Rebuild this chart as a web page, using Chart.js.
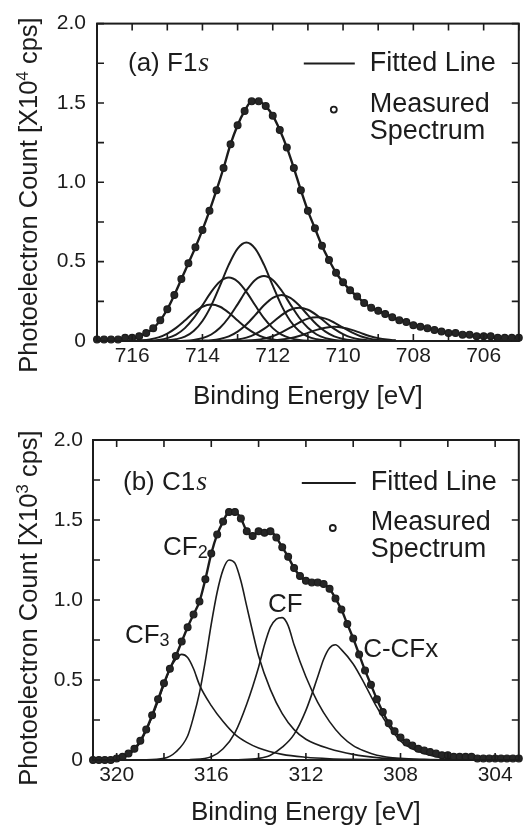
<!DOCTYPE html>
<html>
<head>
<meta charset="utf-8">
<script src="https://cdn.jsdelivr.net/npm/chart.js@4.4.1/dist/chart.umd.min.js"></script>
<style>
  html, body { margin: 0; padding: 0; background: #fff; }
  .panel { position: absolute; left: 0; width: 524px; height: 413px; }
</style>
</head>
<body>
<div class="panel" style="top:0"><canvas id="chartF1s" width="524" height="413"></canvas></div>
<div class="panel" style="top:413px"><canvas id="chartC1s" width="524" height="413"></canvas></div>
<script>
var INK = '#1c1c1c';
var SANS = '"Liberation Sans", Arial, Helvetica, sans-serif';
var SERIF = '"Liberation Serif", "Times New Roman", serif';

// ---- (a) F1s : measured spectrum (x10^4 cps) ----
var energyF1s = [717.0,716.8,716.6,716.4,716.2,716.0,715.8,715.6,715.4,715.2,
  715.0,714.8,714.6,714.4,714.2,714.0,713.8,713.6,713.4,713.2,
  713.0,712.8,712.6,712.4,712.2,712.0,711.8,711.6,711.4,711.2,
  711.0,710.8,710.6,710.4,710.2,710.0,709.8,709.6,709.4,709.2,
  709.0,708.8,708.6,708.4,708.2,708.0,707.8,707.6,707.4,707.2,
  707.0,706.8,706.6,706.4,706.2,706.0,705.8,705.6,705.4,705.2,705.0];
var countF1s = [0.01,0.01,0.01,0.01,0.02,0.02,0.03,0.05,0.08,0.13,
  0.20,0.29,0.39,0.49,0.59,0.70,0.82,0.95,1.09,1.24,
  1.36,1.45,1.51,1.51,1.48,1.42,1.33,1.22,1.09,0.95,
  0.82,0.71,0.60,0.51,0.43,0.37,0.32,0.28,0.24,0.21,
  0.19,0.17,0.15,0.13,0.12,0.10,0.09,0.08,0.07,0.06,
  0.05,0.05,0.04,0.04,0.03,0.03,0.03,0.02,0.02,0.02,0.02];

// fitted components of F1s
var peakEnergyF1s = [716.0,715.75,715.5,715.25,715.0,714.75,714.5,714.25,714.0,713.75,
  713.5,713.25,713.0,712.75,712.5,712.25,712.0,711.75,711.5,711.25,
  711.0,710.75,710.5,710.25,710.0,709.75,709.5,709.25,709.0,708.75,708.5];
var peakF1a = [0.001,0.004,0.010,0.023,0.047,0.083,0.129,0.178,0.216,0.230,0.216,0.178,0.129,0.083,0.047,0.023,0.010,0.004,0.001,0,0,0,0,0,0,0,0,0,0,0,0];
var peakF1b = [0,0.001,0.002,0.007,0.018,0.040,0.081,0.144,0.225,0.310,0.375,0.400,0.375,0.310,0.225,0.144,0.081,0.040,0.018,0.007,0.002,0.001,0,0,0,0,0,0,0,0,0];
var peakF1c = [0,0,0,0.001,0.004,0.011,0.027,0.063,0.126,0.223,0.349,0.481,0.582,0.620,0.582,0.481,0.349,0.223,0.126,0.063,0.027,0.011,0.004,0.001,0,0,0,0,0,0,0];
var peakF1d = [0,0,0,0,0,0,0.002,0.007,0.018,0.041,0.083,0.148,0.231,0.318,0.385,0.410,0.385,0.318,0.231,0.148,0.083,0.041,0.018,0.007,0.002,0,0,0,0,0,0];
var peakF1e = [0,0,0,0,0,0,0,0,0.002,0.005,0.013,0.029,0.059,0.104,0.163,0.225,0.272,0.290,0.272,0.225,0.163,0.104,0.059,0.029,0.013,0.005,0.002,0,0,0,0];
var peakF1f = [0,0,0,0,0,0,0,0,0,0,0.001,0.004,0.009,0.021,0.043,0.076,0.118,0.163,0.197,0.210,0.197,0.163,0.118,0.076,0.043,0.021,0.009,0.004,0.001,0,0];
var peakF1g = [0,0,0,0,0,0,0,0,0,0,0,0,0.001,0.003,0.007,0.015,0.030,0.054,0.084,0.116,0.141,0.150,0.141,0.116,0.084,0.054,0.030,0.015,0.007,0.003,0.001];
var peakF1h = [0,0,0,0,0,0,0,0,0,0,0,0,0,0,0,0.002,0.004,0.009,0.018,0.032,0.051,0.070,0.084,0.090,0.084,0.070,0.051,0.032,0.018,0.009,0.004];

// ---- (b) C1s : measured spectrum (x10^3 cps) ----
var energyC1s = [321.00,320.75,320.50,320.25,320.00,319.75,319.50,319.25,319.00,318.75,
  318.50,318.25,318.00,317.75,317.50,317.25,317.00,316.75,316.50,316.25,
  316.00,315.75,315.50,315.25,315.00,314.75,314.50,314.25,314.00,313.75,
  313.50,313.25,313.00,312.75,312.50,312.25,312.00,311.75,311.50,311.25,
  311.00,310.75,310.50,310.25,310.00,309.75,309.50,309.25,309.00,308.75,
  308.50,308.25,308.00,307.75,307.50,307.25,307.00,306.75,306.50,306.25,
  306.00,305.75,305.50,305.25,305.00,304.75,304.50,304.25,304.00,303.75,
  303.50,303.25,303.00];
var countC1s = [0.00,0.00,0.00,0.00,0.01,0.02,0.04,0.07,0.12,0.19,
  0.28,0.38,0.48,0.57,0.65,0.74,0.83,0.91,0.99,1.13,
  1.29,1.41,1.49,1.55,1.55,1.51,1.43,1.40,1.43,1.42,
  1.43,1.39,1.33,1.27,1.20,1.15,1.12,1.11,1.11,1.10,
  1.07,1.01,0.94,0.85,0.76,0.66,0.56,0.47,0.38,0.30,
  0.23,0.18,0.14,0.11,0.09,0.07,0.06,0.05,0.04,0.03,
  0.03,0.02,0.02,0.02,0.02,0.01,0.01,0.01,0.01,0.01,
  0.01,0.01,0.01];

// fitted components of C1s
var cf3Energy = [320.0,319.5,319.0,318.5,318.0,317.75,317.5,317.25,317.0,316.75,316.5,316.0,315.5,315.0,314.5,314.0,313.0,312.0,311.0,310.0,309.0,308.0,305.0];
var cf3Count  = [0.0,0.03,0.11,0.27,0.47,0.57,0.63,0.66,0.64,0.57,0.47,0.34,0.24,0.16,0.11,0.075,0.035,0.017,0.008,0.004,0.002,0.0,0.0];
var cf2Energy = [319.0,318.0,317.5,317.0,316.75,316.5,316.25,316.0,315.75,315.5,315.25,315.0,314.75,314.5,314.25,314.0,313.5,313.0,312.5,312.0,311.0,310.0,309.0,308.0,306.0];
var cf2Count  = [0.0,0.01,0.05,0.15,0.27,0.42,0.62,0.85,1.05,1.19,1.25,1.23,1.12,0.96,0.80,0.65,0.44,0.29,0.19,0.13,0.07,0.035,0.015,0.006,0.0];
var cfEnergy  = [317.0,316.0,315.5,315.0,314.5,314.0,313.75,313.5,313.25,313.0,312.75,312.5,312.0,311.5,311.0,310.5,310.0,309.5,309.0,308.0,307.0,305.0];
var cfCount   = [0.0,0.02,0.07,0.17,0.35,0.58,0.72,0.83,0.88,0.89,0.84,0.72,0.52,0.36,0.24,0.15,0.09,0.055,0.03,0.01,0.004,0.0];
var ccfxEnergy = [315.0,314.0,313.5,313.0,312.5,312.0,311.5,311.25,311.0,310.75,310.5,310.0,309.5,309.0,308.5,308.0,307.5,307.0,306.5,306.0,305.0];
var ccfxCount  = [0.0,0.01,0.03,0.08,0.16,0.31,0.52,0.63,0.70,0.72,0.69,0.60,0.47,0.33,0.21,0.12,0.07,0.04,0.02,0.01,0.0];

// tick labels
var xLabelsF1s = [716, 714, 712, 710, 708, 706];
var xLabelsC1s = [320, 316, 312, 308, 304];
var yLabels = [0, 0.5, 1.0, 1.5, 2.0];

function pts(xs, ys) {
  return xs.map(function (x, i) { return { x: x, y: ys[i] }; });
}

function measuredSet(xs, ys) {
  return {
    data: pts(xs, ys), showLine: false, clip: false,
    pointRadius: 3.4, pointBorderWidth: 1.2,
    pointBackgroundColor: '#262626', pointBorderColor: INK
  };
}
function lineSet(xs, ys, w) {
  return {
    data: pts(xs, ys), showLine: true, borderColor: INK, borderWidth: w,
    pointRadius: 0, cubicInterpolationMode: 'monotone'
  };
}

function textWithSub(ctx, x, y, main, sub, size) {
  ctx.font = size + 'px ' + SANS;
  ctx.textAlign = 'left';
  ctx.textBaseline = 'alphabetic';
  var base = y + size * 0.36;
  ctx.fillText(main, x, base);
  var w = ctx.measureText(main).width;
  ctx.font = Math.round(size * 0.68) + 'px ' + SANS;
  ctx.fillText(sub, x + w, base + size * 0.12);
}

function panelDecor(cfg) {
  return {
    id: 'panelDecor',
    afterDatasetsDraw: function (chart) {
      var ctx = chart.ctx, a = chart.chartArea;
      var xs = chart.scales.x, ys = chart.scales.y;
      ctx.save();
      ctx.strokeStyle = INK;
      ctx.fillStyle = INK;
      ctx.lineWidth = 2;
      ctx.strokeRect(a.left, a.top, a.right - a.left, a.bottom - a.top);
      // inward ticks on all four sides
      ctx.lineWidth = 1.6;
      ctx.beginPath();
      xs.ticks.forEach(function (t) {
        var q = t.value / cfg.xStep;
        if (Math.abs(q - Math.round(q)) > 1e-6) return;
        var px = xs.getPixelForValue(t.value);
        ctx.moveTo(px, a.bottom); ctx.lineTo(px, a.bottom - 7);
        ctx.moveTo(px, a.top); ctx.lineTo(px, a.top + 7);
      });
      ys.ticks.forEach(function (t) {
        var py = ys.getPixelForValue(t.value);
        ctx.moveTo(a.left, py); ctx.lineTo(a.left + 7, py);
        ctx.moveTo(a.right, py); ctx.lineTo(a.right - 7, py);
      });
      ctx.stroke();

      // panel label, e.g. "(a) F1s"
      ctx.font = '26px ' + SANS;
      ctx.textAlign = 'left';
      ctx.textBaseline = 'alphabetic';
      var lx = a.left + cfg.label.dx, ly = a.top + cfg.label.dy + 9;
      ctx.fillText(cfg.label.text, lx, ly);
      var lw = ctx.measureText(cfg.label.text).width;
      ctx.font = 'italic 28px ' + SERIF;
      ctx.fillText('s', lx + lw + 1, ly);

      // legend
      var L = cfg.legend;
      ctx.lineWidth = 2;
      ctx.beginPath();
      ctx.moveTo(a.right - L.lineFrom, a.top + L.lineY);
      ctx.lineTo(a.right - L.lineTo, a.top + L.lineY);
      ctx.stroke();
      ctx.font = '27px ' + SANS;
      ctx.textBaseline = 'middle';
      ctx.fillText('Fitted Line', a.right - L.textX, a.top + L.lineY);
      ctx.fillText('Measured', a.right - L.textX, a.top + L.measY);
      ctx.fillText('Spectrum', a.right - L.textX, a.top + L.measY + 27);
      ctx.lineWidth = 1.8;
      ctx.beginPath();
      ctx.arc(a.right - L.dotX, a.top + L.dotY, 3, 0, Math.PI * 2);
      ctx.stroke();

      // peak labels in data coordinates
      (cfg.peaks || []).forEach(function (p) {
        var px = xs.getPixelForValue(p.e), py = ys.getPixelForValue(p.v);
        if (p.sub) textWithSub(ctx, px, py, p.text, p.sub, 26);
        else {
          ctx.font = '26px ' + SANS;
          ctx.textBaseline = 'middle';
          ctx.fillText(p.text, px, py);
        }
      });

      // rotated y title with superscript
      ctx.translate(28, cfg.yTitleY);
      ctx.rotate(-Math.PI / 2);
      ctx.textBaseline = 'alphabetic';
      ctx.textAlign = 'left';
      var t1 = 'Photoelectron Count [X10', t2 = cfg.expo, t3 = ' cps]';
      ctx.font = '25.5px ' + SANS;
      var w1 = ctx.measureText(t1).width, w3 = ctx.measureText(t3).width;
      ctx.font = '17px ' + SANS;
      var w2 = ctx.measureText(t2).width;
      var x0 = -(w1 + w2 + w3) / 2;
      ctx.font = '25.5px ' + SANS;
      ctx.fillText(t1, x0, 9);
      ctx.font = '17px ' + SANS;
      ctx.fillText(t2, x0 + w1, 0);
      ctx.font = '25.5px ' + SANS;
      ctx.fillText(t3, x0 + w1 + w2, 9);
      ctx.restore();
    }
  };
}

function makeOptions(o) {
  return {
    responsive: false,
    animation: false,
    devicePixelRatio: 1,
    layout: { padding: { left: 0, right: o.padRight, top: o.padTop, bottom: 0 } },
    plugins: { legend: { display: false }, tooltip: { enabled: false } },
    scales: {
      x: {
        type: 'linear', reverse: true, min: o.xMin, max: o.xMax,
        grid: { display: false, drawTicks: false },
        border: { display: false },
        afterFit: function (s) { s.height = o.xHeight; },
        ticks: {
          stepSize: 1, autoSkip: false, maxRotation: 0, padding: 3,
          color: INK, font: { family: SANS, size: 21 },
          callback: function (v) { return o.xLabels.indexOf(v) >= 0 ? String(v) : ''; }
        },
        title: {
          display: true, text: 'Binding Energy [eV]', color: INK,
          font: { family: SANS, size: 26, lineHeight: 1 },
          padding: { top: 0, bottom: o.titlePad }
        }
      },
      y: {
        min: 0, max: 2,
        grid: { display: false, drawTicks: false },
        border: { display: false },
        afterFit: function (s) { s.width = o.yWidth; },
        ticks: {
          stepSize: 0.25, autoSkip: false, padding: o.yPad,
          color: INK, font: { family: SANS, size: 21 },
          callback: function (v) {
            if (yLabels.indexOf(v) < 0) return '';
            return v === 0 ? '0' : v.toFixed(1);
          }
        }
      }
    }
  };
}

new Chart(document.getElementById('chartF1s'), {
  type: 'scatter',
  data: {
    datasets: [
      measuredSet(energyF1s, countF1s),
      lineSet(energyF1s, countF1s, 2.4),
      lineSet(peakEnergyF1s, peakF1a, 2),
      lineSet(peakEnergyF1s, peakF1b, 2),
      lineSet(peakEnergyF1s, peakF1c, 2),
      lineSet(peakEnergyF1s, peakF1d, 2),
      lineSet(peakEnergyF1s, peakF1e, 2),
      lineSet(peakEnergyF1s, peakF1f, 2),
      lineSet(peakEnergyF1s, peakF1g, 2),
      lineSet(peakEnergyF1s, peakF1h, 2)
    ]
  },
  options: makeOptions({
    xMin: 705, xMax: 717, xLabels: xLabelsF1s,
    padTop: 22, padRight: 2, xHeight: 72, yWidth: 97, yPad: 11, titlePad: 3
  }),
  plugins: [panelDecor({
    xStep: 1, expo: '4', yTitleY: 195,
    label: { text: '(a) F1', dx: 31, dy: 38 },
    legend: { lineFrom: 215, lineTo: 164, lineY: 40, textX: 149, measY: 81, dotX: 185, dotY: 86 }
  })]
});

new Chart(document.getElementById('chartC1s'), {
  type: 'scatter',
  data: {
    datasets: [
      measuredSet(energyC1s, countC1s),
      lineSet(energyC1s, countC1s, 2.4),
      lineSet(cf3Energy, cf3Count, 1.6),
      lineSet(cf2Energy, cf2Count, 1.6),
      lineSet(cfEnergy, cfCount, 1.6),
      lineSet(ccfxEnergy, ccfxCount, 1.6)
    ]
  },
  options: makeOptions({
    xMin: 303, xMax: 321, xLabels: xLabelsC1s,
    padTop: 27, padRight: 4, xHeight: 66, yWidth: 93, yPad: 10, titlePad: 0
  }),
  plugins: [panelDecor({
    xStep: 2, expo: '3', yTitleY: 195,
    label: { text: '(b) C1', dx: 30, dy: 41 },
    legend: { lineFrom: 217, lineTo: 163, lineY: 43, textX: 148, measY: 83, dotX: 186, dotY: 88 },
    peaks: [
      { e: 318.04, v: 1.34, text: 'CF', sub: '2' },
      { e: 319.65, v: 0.79, text: 'CF', sub: '3' },
      { e: 313.6, v: 0.97, text: 'CF' },
      { e: 309.58, v: 0.69, text: 'C-CFx' }
    ]
  })]
});
</script>
</body>
</html>
